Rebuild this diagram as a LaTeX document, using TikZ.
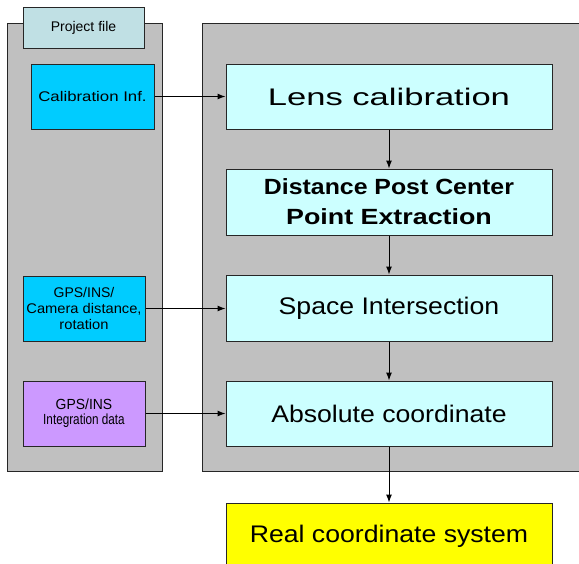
\documentclass[tikz,border=0pt]{standalone}
\usepackage{fontspec}
\setmainfont{Liberation Sans}
\usetikzlibrary{arrows.meta}
\definecolor{panelgray}{HTML}{C0C0C0}
\definecolor{projcol}{HTML}{C0E0E4}
\definecolor{bluecol}{HTML}{00CCFF}
\definecolor{purplecol}{HTML}{CC99FF}
\definecolor{cyancol}{HTML}{CCFFFF}
\definecolor{yellowcol}{HTML}{FFFF00}
\newcommand{\hs}[2]{\scalebox{#1}[1]{#2}}
\tikzset{
  panel/.style={draw=black!85, fill=panelgray, line width=0.75pt},
  box/.style={draw=black!85, line width=0.75pt, inner sep=0pt, align=center, text=black},
  smallbox/.style={box, minimum width=91.5pt, minimum height=48.75pt, font=\fontsize{10.5pt}{12pt}\selectfont},
  bigbox/.style={box, fill=cyancol, minimum width=244.5pt, minimum height=48.75pt, font=\fontsize{18pt}{22pt}\selectfont},
  conn/.style={line width=0.75pt, -{Latex[length=6pt,width=4.5pt]}},
}
\begin{document}
\begin{tikzpicture}[x=0.75pt, y=-0.75pt]
\useasboundingbox (0,0) rectangle (579,564);
\clip (0,0) rectangle (579,564);
% panels
\draw[panel] (7,23) rectangle (162,471);
\draw[panel] (202,23) rectangle (600,471);
% left nodes
\node[box, fill=projcol, minimum width=90.75pt, minimum height=30.75pt, font=\fontsize{10.5pt}{12pt}\selectfont] (proj) at (83.5,27.5) {\raisebox{-1pt}{\hs{1.0}{Project file}}};
\node[smallbox, fill=bluecol, minimum width=92.25pt] (calib) at (92.5,96.5) {\raisebox{-1pt}{\hs{1.2}{Calibration Inf.}}};
\node[smallbox, fill=bluecol, font=\fontsize{10.5pt}{12pt}\selectfont] (gpscam) at (84,308.5) {\hs{1.0}{GPS/INS/}\\[-0.3pt]\hs{1.05}{Camera distance,}\\[-0.3pt]\hs{1.05}{rotation}};
\node[smallbox, fill=purplecol, font=\fontsize{11pt}{11.5pt}\selectfont] (gpsint) at (84,413.5) {\hs{0.95}{GPS/INS}\\\hs{0.8}{Integration data}};
% right nodes
\node[bigbox] (lens) at (389,96.5) {\raisebox{-2pt}{\hs{1.44}{Lens calibration}}};
\node[bigbox, minimum height=49.5pt, font=\fontsize{16.5pt}{22.5pt}\selectfont\bfseries] (dist) at (389,202) {\hs{1.13}{Distance Post Center}\\\hs{1.22}{Point Extraction}};
\node[bigbox, minimum height=49.5pt] (space) at (389,308) {\raisebox{-1.5pt}{\hs{1.11}{Space Intersection}}};
\node[bigbox] (abs) at (389,413.5) {\raisebox{-1.5pt}{\hs{1.11}{Absolute coordinate}}};
\node[bigbox, fill=yellowcol, minimum height=49.5pt] (real) at (389,536) {\raisebox{-1.5pt}{\hs{1.11}{Real coordinate system}}};
% connectors
\draw[conn] (calib.east) -- (lens.west);
\draw[conn] (gpscam.east) -- (space.west |- gpscam.east);
\draw[conn] (gpsint.east) -- (abs.west);
\draw[conn] (lens) -- (dist);
\draw[conn] (dist) -- (space);
\draw[conn] (space) -- (abs);
\draw[conn] (abs) -- (real);
\end{tikzpicture}
\end{document}
